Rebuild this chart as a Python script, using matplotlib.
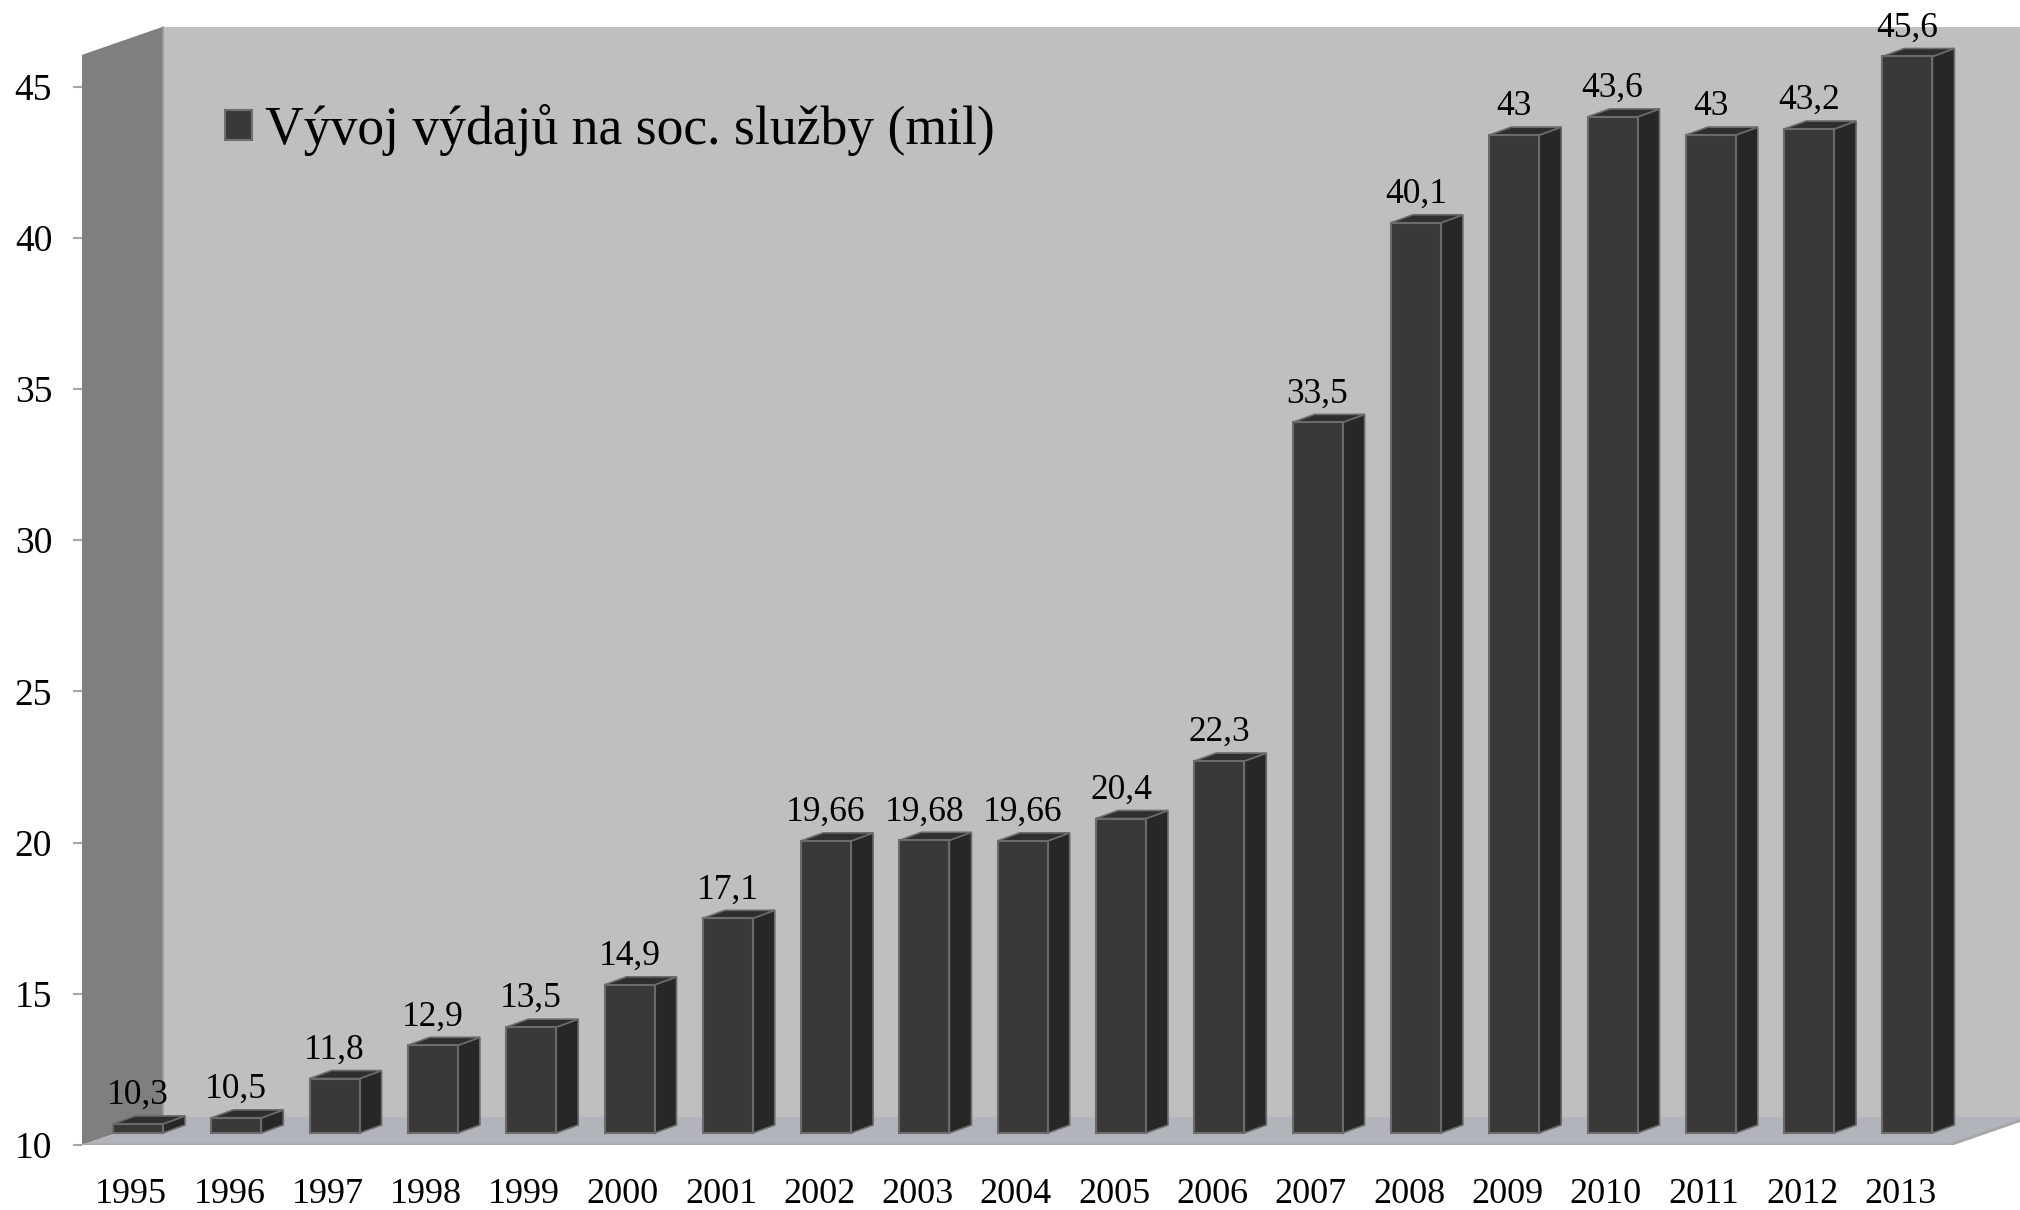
import matplotlib
matplotlib.use('Agg')
import matplotlib.pyplot as plt
from matplotlib.patches import Polygon, Patch

# data
years = ['1995', '1996', '1997', '1998', '1999', '2000', '2001', '2002', '2003', '2004',
         '2005', '2006', '2007', '2008', '2009', '2010', '2011', '2012', '2013']
values = [10.3, 10.5, 11.8, 12.9, 13.5, 14.9, 17.1, 19.66, 19.68, 19.66,
          20.4, 22.3, 33.5, 40.1, 43.0, 43.6, 43.0, 43.2, 45.6]
value_labels = ['10,3', '10,5', '11,8', '12,9', '13,5', '14,9', '17,1', '19,66', '19,68', '19,66',
                '20,4', '22,3', '33,5', '40,1', '43', '43,6', '43', '43,2', '45,6']
y_ticks = [10, 15, 20, 25, 30, 35, 40, 45]
series_name = 'Vývoj výdajů na soc. služby (mil)'

plt.rcParams['font.family'] = ['Liberation Serif', 'DejaVu Serif']

W, H = 2020, 1210
fig = plt.figure(figsize=(W / 100, H / 100), dpi=100)

# axes front plane: left edge at x=82px, value 10 at y=1145px
px_x = 98.3     # pixels per category
px_y = 30.24    # pixels per unit
ax_left, ax_bottom = 82, H - 1145
ax = fig.add_axes([ax_left / W, ax_bottom / H, (W - ax_left) / W, (H - ax_bottom) / H])
ax.set_xlim(0, (W - ax_left) / px_x)
ax.set_ylim(10, 10 + (H - ax_bottom) / px_y)
ax.patch.set_visible(False)
for s in ax.spines.values():
    s.set_visible(False)

n = len(years)
y_base = 10
y_top = 46.05
depth_x = 81 / px_x
depth_y = 0.93

# walls and floor
back_wall = '#bfbfbf'
side_wall = '#7f7f7f'
floor_c = '#b1b4bb'
x_end = n + depth_x + 1
ax.add_patch(Polygon([(depth_x, y_base + depth_y), (x_end, y_base + depth_y),
                      (x_end, y_top + depth_y), (depth_x, y_top + depth_y)],
                     closed=True, fc=back_wall, ec='none', zorder=0))
ax.add_patch(Polygon([(0, y_base), (depth_x, y_base + depth_y),
                      (depth_x, y_top + depth_y), (0, y_top)],
                     closed=True, fc=side_wall, ec='none', zorder=1))
ax.plot([depth_x, depth_x], [y_base + depth_y, y_top + depth_y], color='#9a9a9a', lw=1.2, zorder=1)
ax.add_patch(Polygon([(0, y_base), (n, y_base), (n + depth_x, y_base + depth_y),
                      (depth_x, y_base + depth_y)],
                     closed=True, fc=floor_c, ec='none', zorder=1))
ax.plot([0, n, n + depth_x], [y_base, y_base, y_base + depth_y], color='#a6a6a6', lw=2, zorder=2)

# 3d bars
bar_x0 = 31 / px_x
bar_w = 50 / px_x
bar_dx = 22 / px_x
bar_dy = 8 / px_y
bar_base = 10 + 12 / px_y
front_c = '#3a3839'
side_c = '#272727'
top_c = '#2f2e2e'
edge_c = '#6b6b6b'

for i, (v, lab) in enumerate(zip(values, value_labels)):
    x0 = i + bar_x0
    x1 = x0 + bar_w
    top = v + (bar_base - 10)
    ax.add_patch(Polygon([(x1, bar_base), (x1 + bar_dx, bar_base + bar_dy),
                          (x1 + bar_dx, top + bar_dy), (x1, top)],
                         closed=True, fc=side_c, ec=edge_c, lw=1.2, zorder=5))
    ax.add_patch(Polygon([(x0, top), (x1, top), (x1 + bar_dx, top + bar_dy),
                          (x0 + bar_dx, top + bar_dy)],
                         closed=True, fc=top_c, ec=edge_c, lw=1.2, zorder=5))
    ax.add_patch(Polygon([(x0, bar_base), (x1, bar_base), (x1, top), (x0, top)],
                         closed=True, fc=front_c, ec=edge_c, lw=1.5, zorder=6))
    ax.text(x0 + bar_w / 2, top + 20 / px_y, lab, ha='center', va='baseline',
            fontsize=25.5, color='black', zorder=8)

# axes ticks
ax.set_yticks(y_ticks)
ax.set_yticklabels([str(t) for t in y_ticks], fontsize=27)
ax.tick_params(axis='y', length=6.5, width=1.5, color='#a6a6a6', pad=15)
ax.set_xticks([i + 0.5 for i in range(n)])
ax.set_xticklabels(years, fontsize=26)
ax.tick_params(axis='x', length=0, pad=24)

# legend
handle = Patch(facecolor=front_c, edgecolor='#707070', linewidth=1.5)
ax.legend([handle], [series_name], loc='center left',
          bbox_to_anchor=((225 - ax_left) / (W - ax_left), 1 - 130 / 1145),
          frameon=False, fontsize=38.6, borderpad=0, borderaxespad=0,
          handlelength=0.5, handleheight=0.5, handletextpad=0.25)

fig.savefig('out.png', dpi=100)
